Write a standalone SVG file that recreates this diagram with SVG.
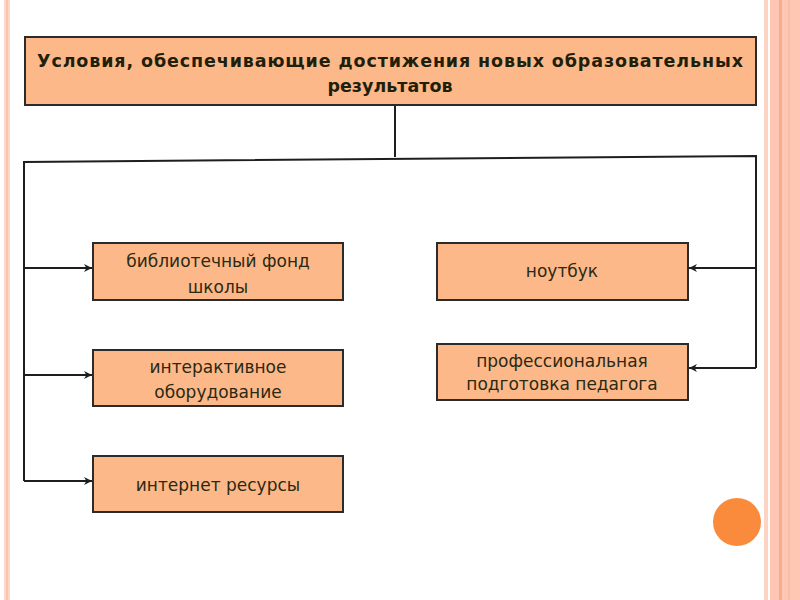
<svg xmlns="http://www.w3.org/2000/svg" width="800" height="600" viewBox="0 0 800 600">
<defs>
<style>
.box{fill:#FDB88A;stroke:#2b2b2b;stroke-width:2}
.t{font-family:"DejaVu Sans","Liberation Sans",sans-serif;font-size:17px;fill:#2a2a12;text-anchor:middle}
.tb{font-family:"DejaVu Sans","Liberation Sans",sans-serif;font-size:17.5px;font-weight:bold;fill:#1f1f0a;text-anchor:middle}
.ln{fill:none;stroke:#1e1e1e;stroke-width:2}
</style>
<marker id="ah" viewBox="0 0 10 10" refX="10" refY="5" markerWidth="8" markerHeight="8" markerUnits="userSpaceOnUse" orient="auto">
<path d="M0,0 L10,5 L0,10 L3,5 Z" fill="#1e1e1e"/>
</marker>
</defs>
<rect width="800" height="600" fill="#ffffff"/>
<g id="frame">
<rect x="4" y="0" width="6" height="600" fill="#FDD8CA"/>
<rect x="6" y="0" width="2" height="600" fill="#FBC4AE"/>
<rect x="764" y="0" width="4" height="600" fill="#FDD3C3"/>
<rect x="770" y="0" width="30" height="600" fill="#FDC7B3"/>
<rect x="779" y="0" width="3" height="600" fill="#F7AE8D"/>
<rect x="788" y="0" width="2" height="600" fill="#FABDA3"/>
<circle cx="737" cy="522" r="24" fill="#FA8A3C"/>
</g>
<g id="connectors">
<line class="ln" x1="395" y1="105" x2="395" y2="157"/>
<polyline class="ln" points="24,481 24,162 756,156 756,368"/>
<line class="ln" x1="24" y1="268" x2="92" y2="268" marker-end="url(#ah)"/>
<line class="ln" x1="24" y1="375" x2="92" y2="375" marker-end="url(#ah)"/>
<line class="ln" x1="24" y1="481" x2="92" y2="481" marker-end="url(#ah)"/>
<line class="ln" x1="756" y1="268" x2="689" y2="268" marker-end="url(#ah)"/>
<line class="ln" x1="756" y1="368" x2="689" y2="368" marker-end="url(#ah)"/>
</g>
<g id="title">
<rect class="box" x="25" y="37" width="731" height="68"/>
<text class="tb" x="390" y="67" textLength="706" lengthAdjust="spacing">Условия, обеспечивающие достижения новых образовательных</text>
<text class="tb" x="390" y="92">результатов</text>
</g>
<g id="n1">
<rect class="box" x="93" y="243" width="250" height="57"/>
<text class="t" x="218" y="267">библиотечный фонд</text>
<text class="t" x="218" y="293">школы</text>
</g>
<g id="n2">
<rect class="box" x="93" y="350" width="250" height="56"/>
<text class="t" x="218" y="373">интерактивное</text>
<text class="t" x="218" y="398">оборудование</text>
</g>
<g id="n3">
<rect class="box" x="93" y="456" width="250" height="56"/>
<text class="t" x="218" y="491">интернет ресурсы</text>
</g>
<g id="n4">
<rect class="box" x="437" y="243" width="251" height="57"/>
<text class="t" x="562" y="277">ноутбук</text>
</g>
<g id="n5">
<rect class="box" x="437" y="344" width="251" height="56"/>
<text class="t" x="562" y="367">профессиональная</text>
<text class="t" x="562" y="390">подготовка педагога</text>
</g>
</svg>
